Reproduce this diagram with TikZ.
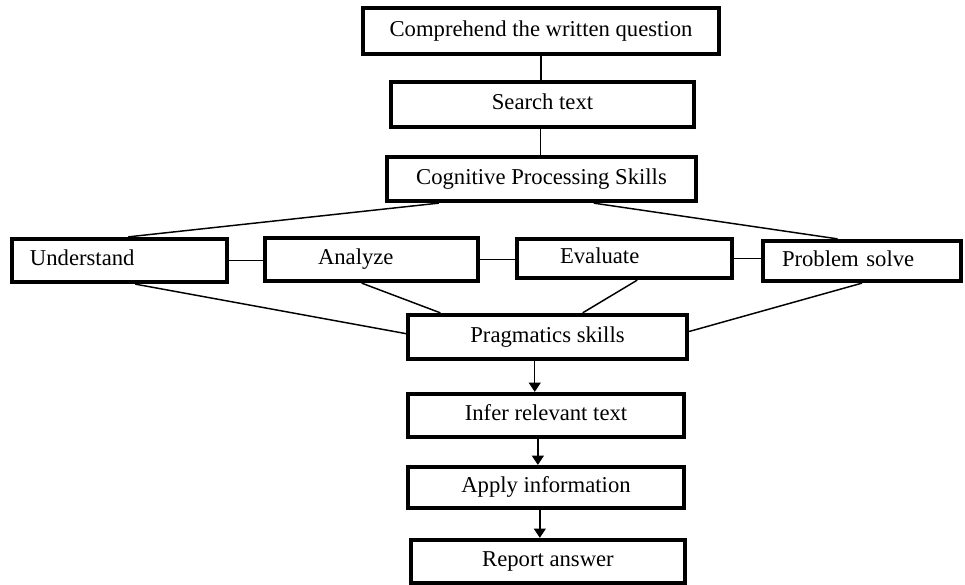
\documentclass[tikz,border=0pt]{standalone}
\usepackage{fontspec}
\setmainfont{Liberation Serif}
\usetikzlibrary{calc,arrows.meta}
\begin{document}
\begin{tikzpicture}[x=0.75pt,y=-0.75pt,
  box/.style={draw, line width=3.2pt, inner sep=0pt, text height=12pt, text depth=4pt, font=\fontsize{17pt}{20pt}\selectfont},
  conn/.style={line width=1.1pt},
  arr/.style={line width=1.1pt, -{Triangle[width=9pt,length=7pt]}}]
\useasboundingbox (0,0) rectangle (965,585);
\node[box, minimum width=267pt, minimum height=34.5pt] (c1) at (541,31) {Comprehend the written question};
\node[box, minimum width=227.25pt, minimum height=33.75pt] (c2) at (542.5,104.5) {Search text};
\node[box, minimum width=231.75pt, minimum height=33pt] (c3) at (541.5,179) {Cognitive Processing Skills};
\node[box, minimum height=32.25pt, text width=134.25pt, inner xsep=13.5pt, align=left] (und) at (119.5,260.5) {Understand};
\node[box, minimum height=32.25pt, text width=80.25pt, inner xsep=39.75pt, align=left] (ana) at (371.5,259.5) {Analyze};
\node[box, minimum height=29.25pt, text width=96.75pt, inner xsep=32.25pt, align=left] (eva) at (624.5,258.5) {Evaluate};
\node[box, minimum height=30pt, text width=120pt, inner xsep=14.25pt, align=left] (pro) at (862,261) {Problem solve};
\node[box, minimum width=209.25pt, minimum height=33pt] (pra) at (547.5,337) {Pragmatics skills};
\node[box, minimum width=207pt, minimum height=32.25pt] (inf) at (546,415.5) {Infer relevant text};
\node[box, minimum width=207pt, minimum height=30.75pt] (app) at (546,487.5) {Apply information};
\node[box, minimum width=205.5pt, minimum height=32.25pt] (rep) at (548,561.5) {Report answer};
% vertical links at top
\draw[conn] (c1.south) -- (c1.south |- c2.north);
\draw[conn] ($(c2.south west)!0.493!(c2.south east)$) coordinate (t2) -- (t2 |- c3.north);
% fan out
\draw[conn] ($(c3.south west)!0.172!(c3.south east)$) -- ($(und.north west)!0.54!(und.north east)$);
\draw[conn] ($(c3.south west)!0.667!(c3.south east)$) -- ($(pro.north west)!0.379!(pro.north east)$);
% horizontal links
\draw[conn] (und.east) -- (und.east -| ana.west);
\draw[conn] (ana.east) -- (ana.east -| eva.west);
\draw[conn] (eva.east) -- (eva.east -| pro.west);
% fan in
\draw[conn] ($(und.south west)!0.572!(und.south east)$) -- ($(pra.north west)!0.43!(pra.south west)$);
\draw[conn] ($(ana.south west)!0.455!(ana.south east)$) -- ($(pra.north west)!0.122!(pra.north east)$);
\draw[conn] ($(eva.south west)!0.558!(eva.south east)$) -- ($(pra.north west)!0.624!(pra.north east)$);
\draw[conn] (pro.south) -- ($(pra.north east)!0.386!(pra.south east)$);
% arrows
\draw[arr] ($(pra.south west)!0.455!(pra.south east)$) coordinate (a1) -- (a1 |- inf.north);
\draw[arr] ($(inf.south west)!0.471!(inf.south east)$) coordinate (a2) -- (a2 |- app.north);
\draw[arr] ($(app.south west)!0.478!(app.south east)$) coordinate (a3) -- (a3 |- rep.north);
\end{tikzpicture}
\end{document}
